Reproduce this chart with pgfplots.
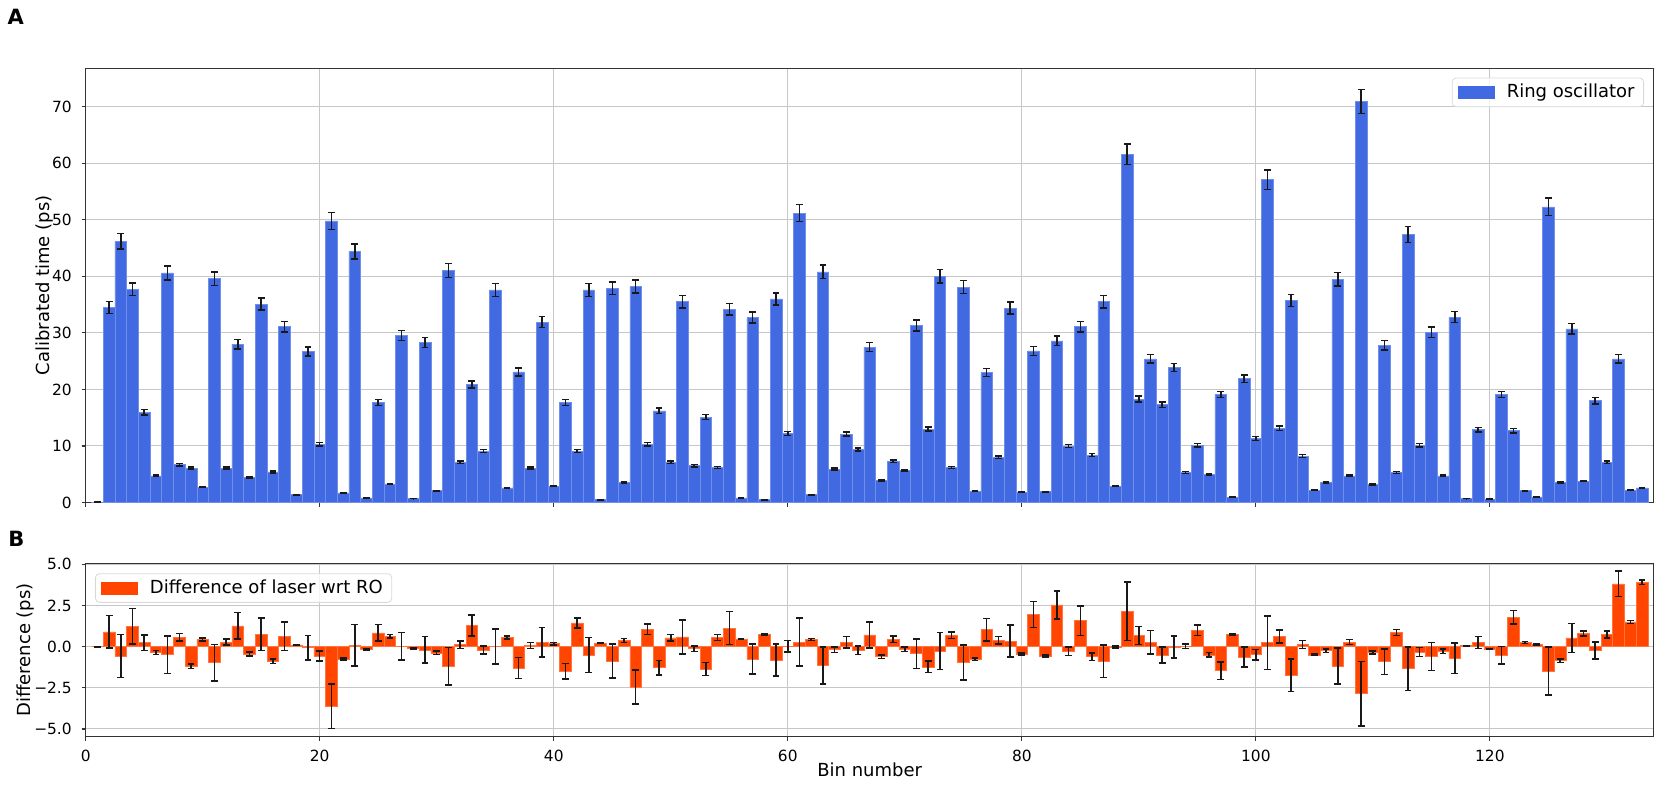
\documentclass[border=0pt]{standalone}
\usepackage{pgfplots}
\pgfplotsset{compat=1.18}
\usepackage{pgfplotstable}
\usepackage{fontspec}
\setmainfont{DejaVu Sans}
\definecolor{royalblue}{HTML}{4169E1}
\definecolor{orangered}{HTML}{FF4500}

\pgfplotstableread{
x y e
1 0.05 0.02
2 34.5 1.04
3 46.2 1.39
4 37.7 1.13
5 16.0 0.48
6 4.7 0.14
7 40.6 1.22
8 6.7 0.20
9 6.1 0.18
10 2.7 0.08
11 39.6 1.19
12 6.1 0.18
13 28.0 0.84
14 4.4 0.13
15 35.1 1.05
16 5.4 0.16
17 31.1 0.93
18 1.4 0.05
19 26.7 0.80
20 10.3 0.31
21 49.8 1.49
22 1.7 0.05
23 44.4 1.33
24 0.8 0.03
25 17.7 0.53
26 3.3 0.10
27 29.5 0.89
28 0.7 0.02
29 28.3 0.85
30 2.1 0.06
31 41.0 1.23
32 7.1 0.21
33 20.9 0.63
34 9.1 0.27
35 37.6 1.13
36 2.6 0.08
37 23.1 0.69
38 6.1 0.18
39 31.9 0.96
40 2.9 0.09
41 17.7 0.53
42 9.1 0.27
43 37.6 1.13
44 0.5 0.02
45 37.9 1.14
46 3.6 0.11
47 38.2 1.15
48 10.3 0.31
49 16.2 0.49
50 7.1 0.21
51 35.5 1.07
52 6.5 0.20
53 15.1 0.45
54 6.2 0.19
55 34.2 1.03
56 0.8 0.03
57 32.7 0.98
58 0.5 0.02
59 36.0 1.08
60 12.2 0.37
61 51.2 1.54
62 1.4 0.05
63 40.8 1.22
64 5.9 0.18
65 12.1 0.36
66 9.4 0.28
67 27.5 0.83
68 3.9 0.12
69 7.3 0.22
70 5.7 0.17
71 31.3 0.94
72 13.0 0.39
73 40.0 1.20
74 6.2 0.19
75 38.1 1.14
76 2.0 0.06
77 23.0 0.69
78 8.0 0.24
79 34.4 1.03
80 1.8 0.05
81 26.8 0.80
82 1.9 0.06
83 28.6 0.86
84 10.0 0.30
85 31.1 0.93
86 8.4 0.25
87 35.5 1.07
88 2.9 0.09
89 61.6 1.85
90 18.3 0.55
91 25.4 0.76
92 17.3 0.52
93 23.9 0.72
94 5.3 0.16
95 10.1 0.30
96 5.0 0.15
97 19.1 0.57
98 0.9 0.03
99 21.9 0.66
100 11.3 0.34
101 57.1 1.71
102 13.1 0.39
103 35.7 1.07
104 8.2 0.25
105 2.2 0.07
106 3.5 0.11
107 39.5 1.19
108 4.7 0.14
109 70.9 2.13
110 3.2 0.10
111 27.8 0.83
112 5.3 0.16
113 47.4 1.42
114 10.1 0.30
115 30.1 0.90
116 4.7 0.14
117 32.8 0.98
118 0.7 0.02
119 12.9 0.39
120 0.6 0.02
121 19.1 0.57
122 12.7 0.38
123 2.1 0.06
124 1.0 0.03
125 52.3 1.57
126 3.5 0.11
127 30.7 0.92
128 3.8 0.11
129 18.0 0.54
130 7.1 0.21
131 25.4 0.76
132 2.2 0.07
133 2.6 0.08
}\topdata

\pgfplotstableread{
x y e
1 0.0 0.02
2 0.9 0.98
3 -0.57 1.3
4 1.23 1.08
5 0.24 0.47
6 -0.36 0.13
7 -0.49 1.15
8 0.57 0.22
9 -1.19 0.15
10 0.43 0.1
11 -0.97 1.11
12 0.28 0.19
13 1.26 0.81
14 -0.45 0.12
15 0.75 1.0
16 -0.89 0.14
17 0.63 0.88
18 0.1 0.04
19 -0.06 0.75
20 -0.57 0.29
21 -3.62 1.35
22 -0.75 0.06
23 0.08 1.26
24 -0.18 0.05
25 0.83 0.5
26 0.63 0.1
27 0.02 0.83
28 -0.1 0.03
29 -0.2 0.8
30 -0.38 0.1
31 -1.19 1.14
32 0.12 0.22
33 1.28 0.64
34 -0.2 0.24
35 0.0 1.07
36 0.55 0.1
37 -1.3 0.65
38 0.06 0.18
39 0.26 0.9
40 0.18 0.08
41 -1.5 0.48
42 1.44 0.3
43 -0.5 1.06
44 0.2 0.02
45 -0.87 1.04
46 0.38 0.12
47 -2.45 1.04
48 1.05 0.32
49 -1.28 0.44
50 0.53 0.2
51 0.59 1.03
52 -0.12 0.17
53 -1.36 0.4
54 0.55 0.18
55 1.13 1.0
56 0.47 0.03
57 -0.75 0.91
58 0.75 0.03
59 -0.81 0.98
60 0.02 0.35
61 0.28 1.45
62 0.43 0.06
63 -1.15 1.13
64 -0.18 0.17
65 0.28 0.35
66 -0.22 0.27
67 0.71 0.8
68 -0.61 0.11
69 0.45 0.21
70 -0.16 0.15
71 -0.43 0.89
72 -1.23 0.35
73 -0.26 1.13
74 0.69 0.21
75 -0.97 1.06
76 -0.77 0.07
77 1.03 0.68
78 0.4 0.23
79 0.34 0.97
80 -0.45 0.06
81 1.94 0.79
82 -0.57 0.06
83 2.53 0.86
84 -0.28 0.27
85 1.58 0.9
86 -0.61 0.23
87 -0.89 0.99
88 -0.02 0.06
89 2.15 1.78
90 0.67 0.54
91 0.26 0.72
92 -0.5 0.49
93 -0.02 0.67
94 0.03 0.14
95 0.99 0.31
96 -0.5 0.13
97 -1.46 0.53
98 0.75 0.03
99 -0.63 0.61
100 -0.49 0.33
101 0.24 1.62
102 0.61 0.4
103 -1.74 0.98
104 0.12 0.24
105 -0.5 0.05
106 -0.25 0.1
107 -1.17 1.1
108 0.28 0.15
109 -2.85 1.96
110 -0.36 0.09
111 -0.91 0.78
112 0.87 0.18
113 -1.34 1.32
114 -0.32 0.27
115 -0.61 0.85
116 -0.28 0.15
117 -0.71 0.92
118 0.06 0.02
119 0.26 0.37
120 -0.14 0.03
121 -0.53 0.54
122 1.78 0.4
123 0.24 0.06
124 0.12 0.03
125 -1.48 1.45
126 -0.85 0.1
127 0.53 0.88
128 0.79 0.15
129 -0.24 0.51
130 0.73 0.21
131 3.81 0.78
132 1.5 0.1
133 3.91 0.13
}\diffdata

\begin{document}
\begin{tikzpicture}
\useasboundingbox (-42.85bp,-142.75bp) rectangle (787.65bp,251.25bp);
\pgfplotsset{
  panel/.style={
    scale only axis, width=784bp,
    xmin=0, xmax=134,
    xtick={0,20,...,120},
    tick pos=left, tick align=outside,
    major tick length=2bp,
    grid=major, grid style={black!22, line width=0.5bp},
    axis line style={black!80, line width=0.6bp},
    tick style={black!80, line width=0.6bp},
    every tick label/.append style={font=\fontsize{7.7bp}{9bp}\selectfont},
    /pgf/number format/assume math mode=true,
    label style={font=\fontsize{9bp}{11bp}\selectfont},
    yticklabel style={xshift=-1.5bp},
    xticklabel style={yshift=-1.2bp},
    legend style={draw=black!15, rounded corners=2bp, fill=white, fill opacity=0.8, text opacity=1,
      font=\fontsize{9bp}{11bp}\selectfont, inner xsep=3bp, inner ysep=1.5bp,
      nodes={inner sep=1.5bp},
      /tikz/every odd column/.append style={column sep=4.5bp}},
    legend cell align=left,
  },
  ebar/.style={error bars/.cd, y dir=both, y explicit,
      error bar style={black!90, line width=0.75bp},
      error mark options={black!90, line width=0.75bp, mark size=1.7bp, rotate=90}},
}
\begin{axis}[panel, name=top, at={(0bp,0bp)}, anchor=south west, height=217.1bp,
  ymin=0, ymax=76.8, ytick={0,10,...,70}, xticklabels={},
  ylabel={Calibrated time (ps)},
  ylabel style={at={([xshift=-20.35bp]axis description cs:0,0.5)}, anchor=center},
  legend style={at={(1,1)}, anchor=north east, xshift=-4.85bp, yshift=-4.7bp},
  legend image code/.code={\fill[royalblue, sharp corners, fill opacity=1] (0bp,-2.9bp) rectangle (18bp,2.9bp);}]
\addplot[ybar, bar width=1, bar shift=0pt, fill=royalblue, draw=royalblue!75!white, line width=0.3bp, ebar]
  table[x=x, y=y, y error=e] {\topdata};
\addlegendentry{Ring oscillator}
\end{axis}
\begin{axis}[panel, name=bot, at={(0bp,-30.4bp)}, anchor=north west, height=86.7bp,
  ymin=-5.47, ymax=5.06, ytick={-5,-2.5,0,2.5,5}, yticklabels={−5.0,−2.5,0.0,2.5,5.0},
  xlabel={Bin number},
  xlabel style={at={([yshift=-20bp]axis description cs:0.5,0)}, anchor=base},
  ylabel={Difference (ps)},
  ylabel style={at={([xshift=-29.95bp]axis description cs:0,0.5)}, anchor=center},
  legend style={at={(0,1)}, anchor=north west, xshift=4.65bp, yshift=-5bp},
  legend image code/.code={\fill[orangered, sharp corners, fill opacity=1] (0bp,-2.9bp) rectangle (18bp,2.9bp);}]
\addplot[ybar, bar width=1, bar shift=0pt, fill=orangered, draw=orangered!75!white, line width=0.3bp, ebar]
  table[x=x, y=y, y error=e] {\diffdata};
\addlegendentry{Difference of laser wrt RO}
\end{axis}
\node[anchor=base west, inner sep=0, font=\fontsize{10.5bp}{12bp}\selectfont\bfseries] at (-39.2bp,238.9bp) {A};
\node[anchor=base west, inner sep=0, font=\fontsize{10.5bp}{12bp}\selectfont\bfseries] at (-38.85bp,-21.75bp) {B};
\end{tikzpicture}
\end{document}
